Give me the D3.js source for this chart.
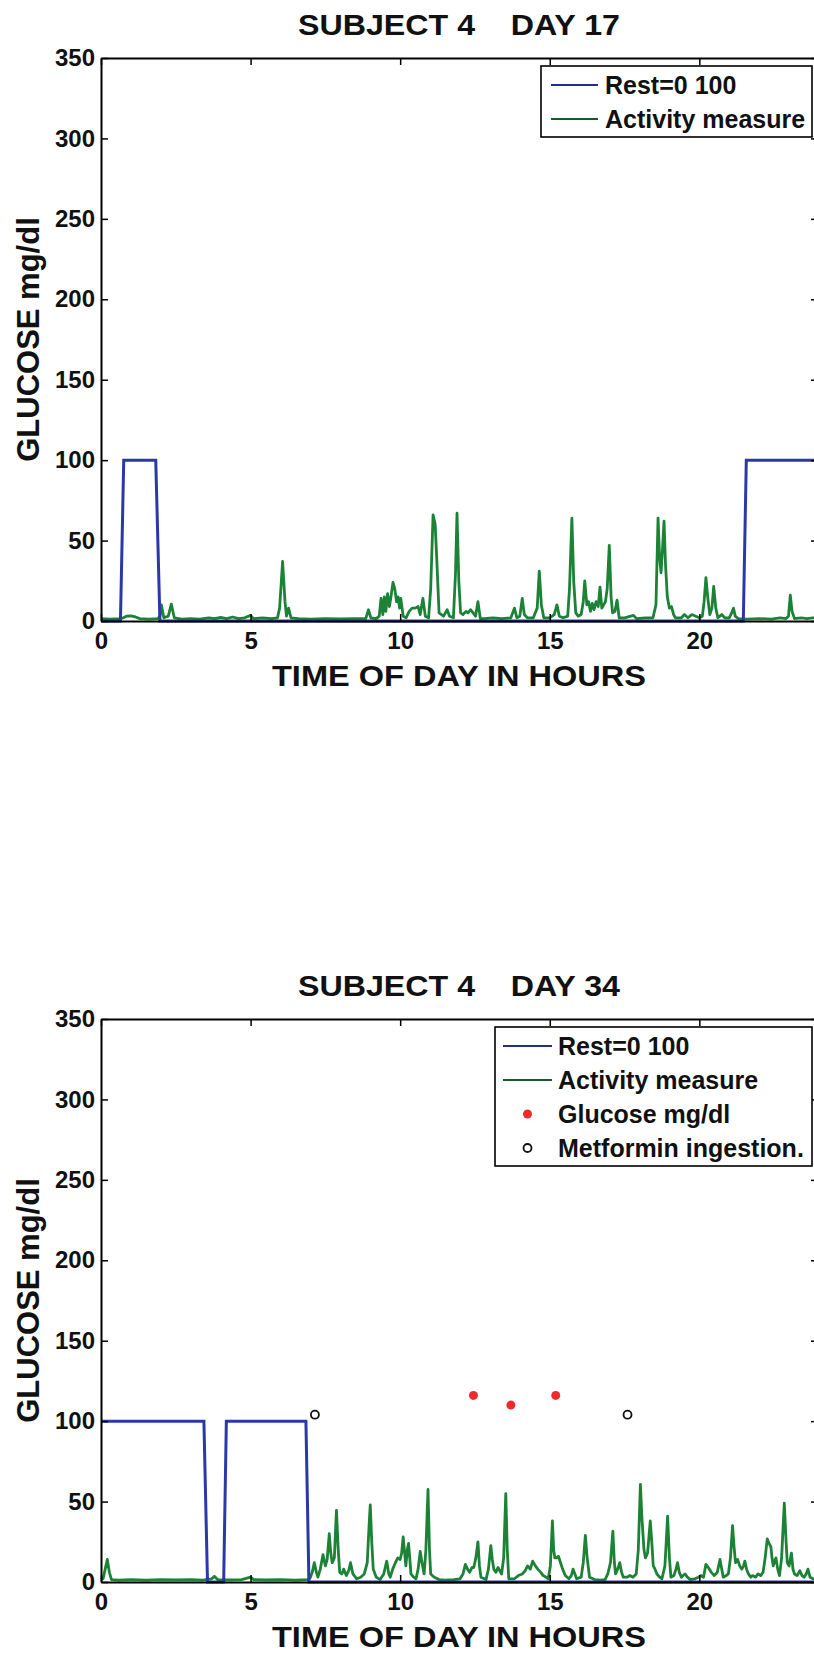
<!DOCTYPE html>
<html>
<head>
<meta charset="utf-8">
<script src="https://cdn.jsdelivr.net/npm/d3@7/dist/d3.min.js"></script>
<style>
  html, body { margin: 0; padding: 0; background: #fff; }
  svg { display: block; }
  text { font-family: "Liberation Sans", Arial, Helvetica, sans-serif; font-weight: bold; fill: #111; }
</style>
</head>
<body>
<svg id="chart" width="814" height="1654"></svg>
<script>
// ---- data -------------------------------------------------------------
const hourTicks = [0, 5, 10, 15, 20];
const glucoseTicks = [0, 50, 100, 150, 200, 250, 300, 350];

const panelTitles = ["SUBJECT 4    DAY 17", "SUBJECT 4    DAY 34"];
const legendLabels = ["Rest=0 100", "Activity measure", "Glucose mg/dl", "Metformin ingestion."];

// rest indicator: 0 = active, 100 = at rest  [hour, value]
const day17Rest = [[0,0],[0.65,0],[0.76,100],[1.83,100],[1.97,0],[21.47,0],[21.57,100],[24,100]];
const day34Rest = [[0,100],[3.44,100],[3.56,0],[4.1,0],[4.19,100],[6.85,100],[6.95,0],[24,0]];

// activity counts  [hour, value]
const day17Activity = [
  [0,1.5],[0.3,1.2],[0.6,1.5],[0.75,2],[0.85,3],[1.0,3.2],[1.15,2.5],[1.3,1.5],[1.6,1.2],[1.9,1.5],
  [1.97,3],[2.02,10],[2.1,2],[2.25,3],[2.35,10.5],[2.45,2],[2.7,1.2],[3.0,1.5],[3.3,1.2],[3.6,2],
  [3.8,1.5],[4.0,2.2],[4.2,1.5],[4.4,2.5],[4.6,1.5],[4.8,2],[5.0,3.5],[5.1,1.5],[5.4,2],[5.7,1.5],[5.9,2],
  [5.97,8],[6.07,37],[6.15,12],[6.2,3],[6.27,8],[6.35,2],[6.6,1.5],[7.0,1.2],[7.5,1.5],[8.0,1.3],[8.5,1.5],[8.85,1.5],
  [8.94,7],[9.02,2],[9.2,1.5],[9.3,3],[9.36,14],[9.42,4],[9.47,15],[9.52,6],[9.58,17],[9.64,9],[9.7,16],
  [9.76,24],[9.82,20],[9.88,12],[9.93,15],[9.98,8],[10.02,14],[10.1,3],[10.2,2],[10.3,6],[10.4,8],[10.5,8],
  [10.6,9],[10.67,4],[10.76,14],[10.84,3],[10.95,2],[11.02,20],[11.1,66],[11.17,60],[11.22,40],[11.3,5],
  [11.45,3],[11.57,7],[11.65,3],[11.78,2],[11.85,30],[11.9,67],[11.96,25],[12.02,5],[12.1,4],[12.2,6],
  [12.27,5],[12.35,7],[12.44,5],[12.52,3],[12.6,12],[12.68,1.5],[12.8,1.5],[13.1,2],[13.4,1.5],[13.7,2],
  [13.82,8],[13.9,2],[14.0,3],[14.08,14],[14.15,4],[14.25,2],[14.45,2],[14.58,8],[14.65,31],[14.72,10],
  [14.8,2],[15.0,2],[15.15,4],[15.24,10],[15.32,3],[15.45,2],[15.6,3],[15.66,20],[15.74,64],[15.8,25],
  [15.87,5],[15.95,3],[16.05,4],[16.12,12],[16.17,25],[16.24,10],[16.3,12],[16.36,6],[16.42,11],[16.48,7],
  [16.55,12],[16.62,9],[16.68,21],[16.74,8],[16.8,10],[16.86,12],[16.92,20],[16.99,47],[17.05,15],[17.1,5],
  [17.18,6],[17.25,13],[17.32,2],[17.5,2],[17.8,3.5],[17.9,1.5],[18.2,2],[18.45,2],[18.55,10],[18.62,64],
  [18.67,40],[18.72,30],[18.77,45],[18.82,62],[18.87,35],[18.93,15],[19.0,8],[19.07,9],[19.14,4],[19.2,2],
  [19.4,2],[19.5,4],[19.62,2],[19.75,4],[19.88,3],[20.0,2],[20.1,3],[20.16,12],[20.22,27],[20.28,15],
  [20.35,4],[20.42,8],[20.48,21.5],[20.55,8],[20.62,2],[20.75,4],[20.85,2],[21.0,2],[21.08,5],[21.14,8],
  [21.2,3],[21.3,1.5],[21.6,1.2],[22.0,1.5],[22.4,1.2],[22.7,2],[22.9,1.5],[22.98,3],[23.04,16],[23.1,6],
  [23.18,1.5],[23.4,2],[23.6,1.5],[23.8,2],[24,1.5]
];

const day34Activity = [
  [0,1.5],[0.07,2],[0.14,8],[0.21,14],[0.28,6],[0.35,1.5],[0.6,1.2],[1.0,1.5],[1.5,1.2],[2.0,1.5],
  [2.5,1.3],[3.0,1.5],[3.4,1.2],[3.7,2],[3.79,3.5],[3.9,1.5],[4.3,1.3],[4.7,1.5],[5.0,3],[5.1,1.5],
  [5.5,1.3],[6.0,1.5],[6.5,1.2],[6.9,1.5],[6.99,2.5],[7.06,6],[7.13,12],[7.2,6],[7.25,3],[7.33,8],
  [7.42,17],[7.5,10],[7.56,14],[7.63,30],[7.68,18],[7.73,12],[7.8,15],[7.87,44.5],[7.93,20],[7.98,6],
  [8.05,5],[8.11,8],[8.2,4],[8.28,7],[8.34,12],[8.42,5],[8.55,2],[8.68,3],[8.8,5],[8.9,12],[8.96,35],
  [9.0,48],[9.05,25],[9.1,8],[9.2,3],[9.33,1.5],[9.45,5],[9.55,13],[9.62,5],[9.67,3],[9.75,8],[9.84,12],
  [9.92,15],[10.0,14],[10.05,18],[10.1,28],[10.15,18],[10.19,10],[10.24,20],[10.28,24],[10.32,15],
  [10.36,5],[10.45,3],[10.53,2],[10.6,8],[10.67,19],[10.73,12],[10.8,5],[10.86,20],[10.93,57.5],
  [10.98,20],[11.02,5],[11.14,3],[11.3,1.5],[11.5,1.2],[11.8,1.5],[12.0,2],[12.1,5],[12.18,11],[12.25,8],
  [12.32,6],[12.4,9],[12.46,9],[12.53,15],[12.6,25],[12.65,10],[12.7,3],[12.87,1.5],[12.95,8],[13.03,22.6],
  [13.08,14],[13.13,8],[13.2,6],[13.27,9],[13.33,7],[13.39,5],[13.46,15],[13.53,55],[13.58,20],[13.63,2],
  [13.82,2],[13.95,4],[14.08,5],[14.18,7],[14.26,10],[14.35,8],[14.43,13],[14.52,10],[14.6,8],[14.7,6],
  [14.78,4],[14.88,3],[14.95,2],[15.02,10],[15.09,38],[15.13,20],[15.17,15],[15.23,15],[15.29,16],
  [15.36,12],[15.43,8],[15.52,4],[15.64,2],[15.72,4],[15.78,8],[15.84,5],[15.9,2],[16.05,3],[16.12,12],
  [16.19,29],[16.25,15],[16.33,3],[16.5,1.5],[16.7,1.2],[16.85,1.5],[16.94,5],[17.03,12],[17.11,31.6],
  [17.16,12],[17.2,5],[17.27,8],[17.34,12],[17.4,6],[17.46,3],[17.58,3],[17.68,4],[17.78,3],[17.89,5],
  [17.96,20],[18.03,60.7],[18.08,40],[18.15,20],[18.2,15],[18.27,18],[18.36,38],[18.41,25],[18.46,10],
  [18.52,8],[18.58,5],[18.68,3],[18.75,2],[18.85,10],[18.94,41],[19.0,15],[19.05,3],[19.15,4],[19.22,8],
  [19.27,12],[19.33,6],[19.4,3],[19.46,4],[19.52,5],[19.6,3],[19.7,1.5],[19.85,2],[19.97,3],[20.05,4],
  [20.14,3],[20.22,11],[20.3,9],[20.4,6],[20.5,4],[20.6,6],[20.69,14],[20.75,8],[20.8,3],[20.9,4],
  [20.97,5],[21.04,15],[21.11,35],[21.16,22],[21.21,12],[21.28,14],[21.35,10],[21.42,8],[21.48,10],
  [21.52,13],[21.58,8],[21.64,5],[21.72,3],[21.78,4],[21.88,3],[21.96,5],[22.05,4],[22.13,6],[22.2,15],
  [22.27,26.8],[22.33,24],[22.39,22],[22.43,15],[22.47,10],[22.52,13],[22.56,15],[22.62,8],[22.68,4],
  [22.75,15],[22.84,49],[22.9,25],[22.94,12],[23.0,10],[23.08,18],[23.13,8],[23.18,5],[23.27,4],
  [23.36,7],[23.43,4],[23.5,3],[23.57,5],[23.63,8],[23.7,3],[23.8,2],[24,2]
];

// finger-stick glucose readings and metformin doses, day 34  [hour, mg/dl]
const day34Glucose = [[12.45,116],[13.7,110],[15.2,116]];
const day34Metformin = [[7.15,104],[17.6,104]];

// ---- layout ------------------------------------------------------------
const plot = { left: 101, right: 819, top: 58, bottom: 621 };
const colors = { rest: "#2a38a8", activity: "#1b8236", restKey: "#1f2e94", activityKey: "#115f26",
                 glucose: "#ee2a2a", metformin: "#111" };

const svg = d3.select("#chart");
const x = d3.scaleLinear().domain([0, 24]).range([plot.left, plot.right]);
const y = d3.scaleLinear().domain([0, 350]).range([plot.bottom, plot.top]);
const line = d3.line().x(d => x(d[0])).y(d => y(d[1]));

const panels = [
  { offset: 0, title: panelTitles[0], rest: day17Rest, activity: day17Activity,
    glucose: [], metformin: [], keys: 2, legendX: 541, lineX0: 551, lineX1: 598, textX: 605 },
  { offset: 961, title: panelTitles[1], rest: day34Rest, activity: day34Activity,
    glucose: day34Glucose, metformin: day34Metformin, keys: 4, legendX: 495, lineX0: 503, lineX1: 552, textX: 558 }
];

panels.forEach(p => {
  const g = svg.append("g").attr("transform", `translate(0,${p.offset})`);

  // title
  g.append("text")
    .attr("x", 298).attr("y", 35)
    .attr("font-size", 30)
    .attr("textLength", 322).attr("lengthAdjust", "spacingAndGlyphs")
    .style("white-space", "pre")
    .text(p.title);

  // series
  g.append("path").datum(p.activity)
    .attr("d", line).attr("fill", "none")
    .attr("stroke", colors.activity).attr("stroke-width", 2.8).attr("stroke-linejoin", "round");
  g.append("path").datum(p.rest)
    .attr("d", line).attr("fill", "none")
    .attr("stroke", colors.rest).attr("stroke-width", 3);

  g.selectAll("circle.glucose").data(p.glucose).join("circle")
    .attr("class", "glucose")
    .attr("cx", d => x(d[0])).attr("cy", d => y(d[1])).attr("r", 4.5)
    .attr("fill", colors.glucose);
  g.selectAll("circle.metformin").data(p.metformin).join("circle")
    .attr("class", "metformin")
    .attr("cx", d => x(d[0])).attr("cy", d => y(d[1])).attr("r", 4)
    .attr("fill", "#fff").attr("stroke", colors.metformin).attr("stroke-width", 1.8);

  // axes box with inward ticks
  const axisStyle = sel => {
    sel.selectAll("path.domain").attr("stroke", "#000").attr("stroke-width", 2);
    sel.selectAll(".tick line").attr("stroke", "#000").attr("stroke-width", 1.5);
    sel.selectAll(".tick text")
      .attr("font-family", "\"Liberation Sans\", Arial, sans-serif")
      .attr("font-weight", "bold").attr("font-size", 24).attr("fill", "#111");
  };
  g.append("g").attr("transform", `translate(0,${plot.bottom})`)
    .call(d3.axisBottom(x).tickValues(hourTicks).tickSize(-7).tickSizeOuter(0).tickPadding(11))
    .call(axisStyle);
  g.append("g").attr("transform", `translate(${plot.left},0)`)
    .call(d3.axisLeft(y).tickValues(glucoseTicks).tickSize(-7).tickSizeOuter(0).tickPadding(6))
    .call(axisStyle);
  g.append("g").attr("transform", `translate(0,${plot.top})`)
    .call(d3.axisTop(x).tickValues(hourTicks).tickSize(-7).tickSizeOuter(0).tickFormat(""))
    .call(axisStyle);
  g.append("g").attr("transform", `translate(${plot.right},0)`)
    .call(d3.axisRight(y).tickValues(glucoseTicks).tickSize(-8).tickSizeOuter(0).tickFormat(""))
    .call(axisStyle);

  // axis labels
  g.append("text")
    .attr("x", 272).attr("y", 686)
    .attr("font-size", 30)
    .attr("textLength", 374).attr("lengthAdjust", "spacingAndGlyphs")
    .text("TIME OF DAY IN HOURS");
  g.append("text")
    .attr("transform", `translate(39,${(plot.top + plot.bottom) / 2}) rotate(-90)`)
    .attr("text-anchor", "middle")
    .attr("font-size", 31)
    .text("GLUCOSE mg/dl");

  // legend
  const rowH = 34, firstRow = 85, boxTop = 66;
  const boxBottom = firstRow + (p.keys - 1) * rowH + 18;
  const lg = g.append("g");
  lg.append("rect")
    .attr("x", p.legendX).attr("y", boxTop)
    .attr("width", 812 - p.legendX).attr("height", boxBottom - boxTop)
    .attr("fill", "#fff").attr("stroke", "#000").attr("stroke-width", 1.6);
  const keyRows = legendLabels.slice(0, p.keys).map((label, i) => ({ label, i }));
  const rows = lg.selectAll("g.key").data(keyRows).join("g")
    .attr("class", "key")
    .attr("transform", d => `translate(0,${firstRow + d.i * rowH})`);
  rows.filter(d => d.i < 2).append("line")
    .attr("x1", p.lineX0).attr("x2", p.lineX1)
    .attr("stroke", d => d.i === 0 ? colors.restKey : colors.activityKey)
    .attr("stroke-width", 2);
  rows.filter(d => d.i === 2).append("circle")
    .attr("cx", (p.lineX0 + p.lineX1) / 2).attr("r", 4.5).attr("fill", colors.glucose);
  rows.filter(d => d.i === 3).append("circle")
    .attr("cx", (p.lineX0 + p.lineX1) / 2).attr("r", 4)
    .attr("fill", "#fff").attr("stroke", colors.metformin).attr("stroke-width", 1.8);
  rows.append("text")
    .attr("x", p.textX).attr("dy", "0.36em")
    .attr("font-size", 25)
    .text(d => d.label);
});
</script>
</body>
</html>
